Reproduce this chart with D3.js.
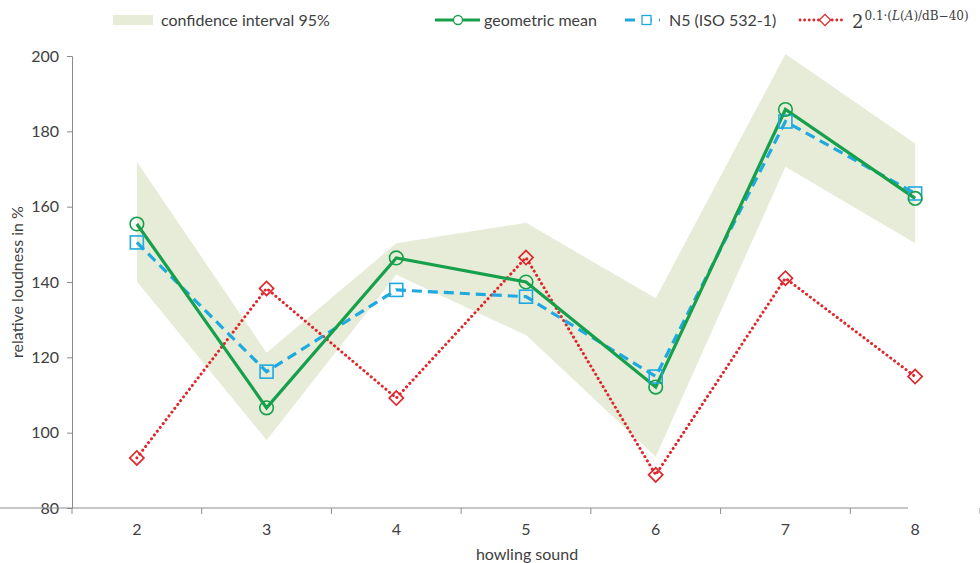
<!DOCTYPE html>
<html><head><meta charset="utf-8">
<script src="https://cdn.jsdelivr.net/npm/d3@7"></script>
<style>
body{margin:0;background:#fff;}
text{font-family:Lato, "Open Sans", sans-serif;fill:#404040;}
</style></head>
<body><svg id="c" width="980" height="563"></svg>
<script>
const categories = ["2","3","4","5","6","7","8"];
const geoMean = [155.4, 106.6, 146.4, 140.0, 112.1, 185.8, 162.2];
const n5 = [150.5, 116.2, 137.9, 136.1, 114.9, 182.6, 163.5];
const laValues = [93.3, 138.3, 109.2, 146.5, 88.8, 141.0, 114.9];
const ciLower = [140.1, 98.0, 141.9, 125.9, 93.6, 170.6, 150.3];
const ciUpper = [171.9, 121.2, 150.3, 155.7, 135.7, 200.5, 176.8];
const yTicks = [80, 100, 120, 140, 160, 180, 200];

const svg = d3.select("#c");
const x = d3.scaleBand().domain(categories).range([72, 980]);
const y = d3.scaleLinear().domain([80, 200]).range([508, 56]);
const cx = c => x(c) + x.bandwidth()/2;

const green = "#17a04b", blue = "#1fa9e1", red = "#e0252b", band = "#e7ecd8";
const FS = 16;

// CI band
const rows = categories.map((c,i)=>({c, lo:ciLower[i], hi:ciUpper[i]}));
svg.append("path").datum(rows)
  .attr("d", d3.area().x(d=>cx(d.c)).y0(d=>y(d.lo)).y1(d=>y(d.hi)))
  .attr("fill", band);

// axes
const yAxis = svg.append("g").attr("transform","translate(72,0)")
  .call(d3.axisLeft(y).tickValues(yTicks).tickSize(5).tickPadding(8));
const xAxis = svg.append("g").attr("transform","translate(0,508)")
  .call(d3.axisBottom(x).tickSize(0).tickPadding(16));
[yAxis, xAxis].forEach(g=>{
  g.select(".domain").attr("stroke","#8c8c8c");
  g.selectAll(".tick line").attr("stroke","#8c8c8c");
  g.selectAll("text").attr("font-size",FS).attr("fill","#404040").attr("font-family","Lato, sans-serif");
});
xAxis.select(".domain").attr("d","M-5,0H908");
// category boundary ticks
xAxis.selectAll(".bt").data(d3.range(categories.length+1)).enter().append("line")
  .attr("x1",i=>x.range()[0]+i*x.step()).attr("x2",i=>x.range()[0]+i*x.step())
  .attr("y1",0).attr("y2",6).attr("stroke","#8c8c8c");

// series lines
const line = d3.line().x((d,i)=>cx(categories[i])).y(d=>y(d));
svg.append("path").datum(laValues).attr("d",line).attr("fill","none")
  .attr("stroke",red).attr("stroke-width",3).attr("stroke-dasharray","0.1,4.7").attr("stroke-linecap","round");
svg.append("path").datum(n5).attr("d",line).attr("fill","none")
  .attr("stroke",blue).attr("stroke-width",3.2).attr("stroke-dasharray","10,6");
svg.append("path").datum(geoMean).attr("d",line).attr("fill","none")
  .attr("stroke",green).attr("stroke-width",3.2);

// markers
svg.selectAll(".dm").data(laValues).enter().append("rect")
  .attr("x",-5).attr("y",-5).attr("width",10).attr("height",10)
  .attr("transform",(d,i)=>`translate(${cx(categories[i])},${y(d)}) rotate(45)`)
  .attr("fill","none").attr("stroke",red).attr("stroke-width",1.7);
svg.selectAll(".sq").data(n5).enter().append("rect")
  .attr("x",(d,i)=>cx(categories[i])-6.5).attr("y",d=>y(d)-6.5).attr("width",13).attr("height",13)
  .attr("fill","none").attr("stroke",blue).attr("stroke-width",1.6);
svg.selectAll(".ci").data(geoMean).enter().append("circle")
  .attr("cx",(d,i)=>cx(categories[i])).attr("cy",d=>y(d)).attr("r",6.8)
  .attr("fill","none").attr("stroke",green).attr("stroke-width",1.6);

// axis titles
svg.append("text").attr("x",527).attr("y",560).attr("text-anchor","middle").attr("font-size",FS).text("howling sound");
svg.append("text").attr("transform","translate(23,282) rotate(-90)").attr("text-anchor","middle").attr("font-size",FS).text("relative loudness in %");

// legend
const lg = svg.append("g");
lg.append("rect").attr("x",113).attr("y",15).attr("width",40).attr("height",10).attr("fill",band);
lg.append("text").attr("x",161).attr("y",26).attr("font-size",FS).text("confidence interval 95%");

lg.append("line").attr("x1",435).attr("x2",480).attr("y1",20).attr("y2",20).attr("stroke",green).attr("stroke-width",3);
lg.append("circle").attr("cx",458).attr("cy",20).attr("r",4.5).attr("fill","#fff").attr("stroke",green).attr("stroke-width",1.3);
lg.append("text").attr("x",484).attr("y",26).attr("font-size",FS).text("geometric mean");

lg.append("line").attr("x1",625).attr("x2",660).attr("y1",20).attr("y2",20).attr("stroke",blue).attr("stroke-width",3).attr("stroke-dasharray","10,7");
lg.append("rect").attr("x",642).attr("y",15.5).attr("width",9).attr("height",9).attr("fill","#fff").attr("stroke",blue).attr("stroke-width",1.3);
lg.append("text").attr("x",669).attr("y",26).attr("font-size",FS).text("N5 (ISO 532-1)");

lg.append("line").attr("x1",800).attr("x2",845).attr("y1",20).attr("y2",20).attr("stroke",red).attr("stroke-width",2.8).attr("stroke-dasharray","0.1,4.5").attr("stroke-linecap","round");
lg.append("rect").attr("x",-4).attr("y",-4).attr("width",8).attr("height",8).attr("transform","translate(825,20) rotate(45)").attr("fill","#fff").attr("stroke",red).attr("stroke-width",1.3);
const mt = lg.append("text").attr("x",852).attr("y",28).attr("font-size",18).style("font-family","'DejaVu Serif', serif");
mt.append("tspan").text("2");
const sup = [["0.1·(",null],["L","italic"],["(",null],["A","italic"],[")/dB−40)",null]];
sup.forEach((s,i)=>{
  const t = mt.append("tspan").attr("font-size",12).text(s[0]);
  if(i===0) t.attr("dy",-8).attr("dx",1);
  if(s[1]) t.attr("font-style","italic");
});
</script></body></html>
